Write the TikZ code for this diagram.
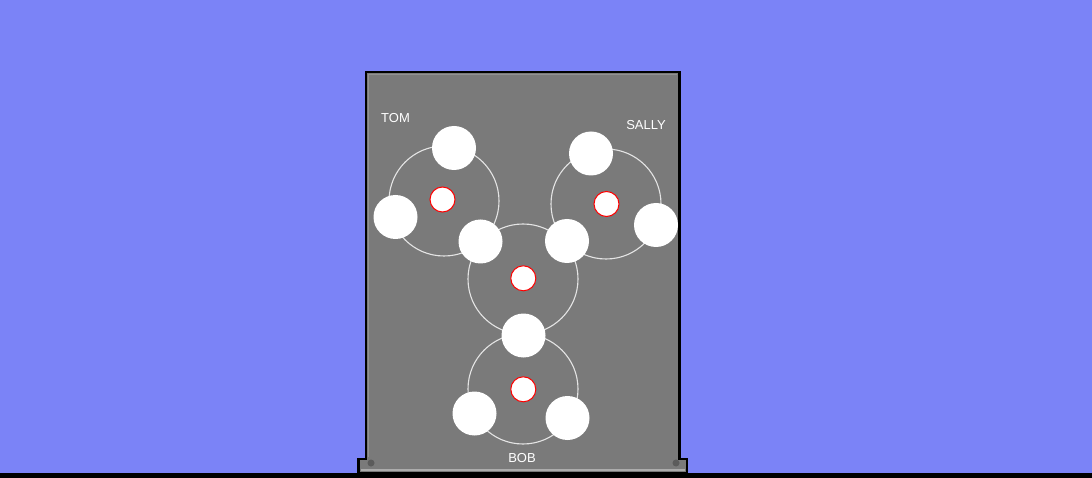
\documentclass[tikz,border=0pt]{standalone}
\usepackage{fontspec}
\setmainfont{Liberation Sans}
\usetikzlibrary{positioning}
\definecolor{sky}{RGB}{123,131,247}
\definecolor{panelgray}{RGB}{122,122,122}
\definecolor{bevel}{RGB}{146,146,146}
\definecolor{basestripe}{RGB}{172,172,172}
\definecolor{ringline}{RGB}{228,228,228}
\tikzset{
    ring/.style={circle, draw=ringline, line width=1.1pt, minimum size=110pt, inner sep=0pt},
    ball/.style={circle, fill=white, minimum size=44pt, inner sep=0pt},
    hub/.style={circle, draw=red, fill=white, line width=1pt, minimum size=25pt, inner sep=0pt},
    playername/.style={text=white, font=\fontsize{13}{15}\selectfont, inner sep=0pt, anchor=base}
}
\begin{document}
\begin{tikzpicture}[x=1pt, y=-1pt]
    % Background and ground
    \fill[sky] (0,0) rectangle (1092,478);
    \fill[black] (0,473) rectangle (1092,478);
    % Cabinet
    \draw[line width=2.5pt, fill=panelgray] (366,72) -- (679.5,72) -- (679.5,459) -- (687,459) -- (687,473) -- (358.5,473) -- (358.5,459) -- (366,459) -- cycle;
    \draw[bevel, line width=1pt] (368.5,457) -- (368.5,74.5) -- (677,74.5);
    \draw[basestripe, line width=1.5pt] (361,470) -- (685,470);
    \fill[black, opacity=0.25] (371,463) circle (3.5);
    \fill[black, opacity=0.25] (676,463) circle (3.5);
    % Rings
    \node (tomring) [ring] at (444,201) {};
    \node (sallyring) [ring] at (606,204) {};
    \node (midring) [ring] at (523,279) {};
    \node (bobring) [ring] at (523,389) {};
    % Balls
    \node (tomtop) [ball] at (454,148) {};
    \node (tomleft) [ball] at (395.5,217) {};
    \node (tommid) [ball] at (480.5,241.5) {};
    \node (sallytop) [ball] at (591,153.5) {};
    \node (sallyright) [ball] at (656,225) {};
    \node (sallymid) [ball] at (567,241) {};
    \node (bobtop) [ball] at (523.5,335.5) {};
    \node (bobleft) [ball] at (474.5,413.5) {};
    \node (bobright) [ball] at (567.5,418) {};
    % Hubs
    \node (tomhub) [hub] at (442.5,199.5) {};
    \node (sallyhub) [hub] at (606.5,204) {};
    \node (midhub) [hub] at (523.3,278.3) {};
    \node (bobhub) [hub] at (523.3,389.3) {};
    % Names
    \node (tom) [playername] at (395.5,122.7) {TOM};
    \node (sally) [playername] at (646,130) {SALLY};
    \node (bob) [playername] at (522,462.3) {BOB};
\end{tikzpicture}
\end{document}
